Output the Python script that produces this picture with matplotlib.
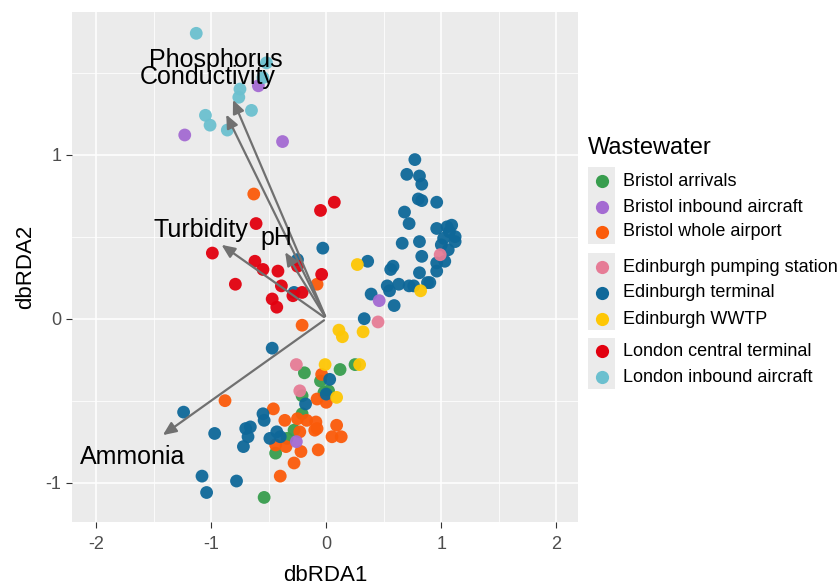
import matplotlib
matplotlib.use("Agg")
import matplotlib.pyplot as plt
from matplotlib.patches import Rectangle
from matplotlib.lines import Line2D

plt.rcParams['font.family'] = ['Liberation Sans', 'DejaVu Sans']

# sample scores per group (dbRDA1, dbRDA2)
groups = ['Bristol arrivals', 'Bristol inbound aircraft', 'Bristol whole airport',
          'Edinburgh pumping station', 'Edinburgh terminal', 'Edinburgh WWTP',
          'London central terminal', 'London inbound aircraft']
colors = ['#389D4E', '#A46BD2', '#FB5B0A', '#E67C96', '#0F6899', '#FEC705', '#E2000F', '#6CC0CF']

bristol_arrivals_x = [-0.19, 0.12, 0.25, -0.05, -0.02, -0.21, -0.21, -0.28, -0.44, -0.54, 0.02, -0.34]
bristol_arrivals_y = [-0.33, -0.31, -0.28, -0.38, -0.45, -0.47, -0.58, -0.68, -0.82, -1.09, -0.44, -0.73]

bristol_inbound_x = [-0.59, -1.23, -0.38, 0.46, -0.26]
bristol_inbound_y = [1.42, 1.12, 1.08, 0.11, -0.75]

bristol_whole_x = [-0.63, -0.08, -0.21, -0.88, -0.46, -0.36, -0.25, -0.17, -0.09, -0.08, -0.10, 0.09,
                   0.05, 0.13, -0.23, -0.35, -0.22, -0.07, -0.28, -0.40, -0.08, 0.00, -0.04, -0.44]
bristol_whole_y = [0.76, 0.21, -0.04, -0.50, -0.55, -0.62, -0.61, -0.62, -0.63, -0.67, -0.68, -0.65,
                   -0.72, -0.72, -0.69, -0.78, -0.81, -0.80, -0.88, -0.96, -0.49, -0.51, -0.34, -0.77]

edi_pumping_x = [-0.26, -0.23, 0.45, 0.99]
edi_pumping_y = [-0.28, -0.44, -0.02, 0.39]

edi_terminal_x = [0.77, 0.70, 0.81, 0.83, 0.80, 0.83, 0.96, 0.68, 0.72, 0.96, 1.05, 1.09, 1.02, 1.12,
                  0.66, 0.81, 0.83, 1.06, 1.12, 0.96, 1.03, 0.96, 0.90, 0.36, 0.58, 0.56, 0.81, 0.88,
                  0.53, 0.55, 0.63, 0.72, 0.76, 0.39, 0.59, 0.33, 1.07, 1.00,
                  -0.03, -0.25, -0.28, -0.47,
                  0.03, 0.00, -0.18, -1.24, -0.55, -0.54, -0.97, -0.70, -0.66, -0.68, -0.72, -0.43,
                  -0.49, -0.40, -1.08, -1.04, -0.78]
edi_terminal_y = [0.97, 0.88, 0.87, 0.82, 0.73, 0.72, 0.71, 0.65, 0.58, 0.55, 0.56, 0.57, 0.49, 0.50,
                  0.46, 0.47, 0.38, 0.42, 0.47, 0.34, 0.35, 0.29, 0.22, 0.35, 0.32, 0.30, 0.28, 0.22,
                  0.20, 0.17, 0.21, 0.20, 0.20, 0.15, 0.08, 0.00, 0.53, 0.45,
                  0.43, 0.36, 0.16, -0.18,
                  -0.37, -0.46, -0.52, -0.57, -0.58, -0.62, -0.70, -0.67, -0.66, -0.72, -0.78, -0.69,
                  -0.73, -0.72, -0.96, -1.06, -0.99]

edi_wwtp_x = [0.11, 0.14, 0.32, -0.01, 0.29, 0.27, 0.82, 0.09]
edi_wwtp_y = [-0.07, -0.11, -0.08, -0.28, -0.28, 0.33, 0.17, -0.48]

lon_central_x = [0.07, -0.05, -0.61, -0.99, -0.62, -0.55, -0.42, -0.25, -0.04, -0.79, -0.39, -0.47,
                 -0.29, -0.21, -0.43]
lon_central_y = [0.71, 0.66, 0.58, 0.40, 0.35, 0.30, 0.29, 0.32, 0.27, 0.21, 0.20, 0.12,
                 0.14, 0.16, 0.07]

lon_inbound_x = [-1.13, -0.52, -0.55, -0.75, -0.76, -0.65, -1.05, -1.01, -0.86]
lon_inbound_y = [1.74, 1.56, 1.47, 1.40, 1.35, 1.27, 1.24, 1.18, 1.15]

xs = [bristol_arrivals_x, bristol_inbound_x, bristol_whole_x, edi_pumping_x,
      edi_terminal_x, edi_wwtp_x, lon_central_x, lon_inbound_x]
ys = [bristol_arrivals_y, bristol_inbound_y, bristol_whole_y, edi_pumping_y,
      edi_terminal_y, edi_wwtp_y, lon_central_y, lon_inbound_y]

# environmental vectors
variables = ['Phosphorus', 'Conductivity', 'Turbidity', 'pH', 'Ammonia']
vec_x = [-0.82, -0.88, -0.93, -0.37, -1.44]
vec_y = [1.35, 1.26, 0.46, 0.42, -0.72]

fig = plt.figure(figsize=(8.39, 5.88), dpi=100)
ax = fig.add_axes([0.0858, 0.1122, 0.6034, 0.8674])
ax.set_facecolor('#EBEBEB')

draw_order = [0, 2, 4, 1, 5, 3, 6, 7]
for i in draw_order:
    ax.scatter(xs[i], ys[i], s=85, color=colors[i], edgecolors='none', alpha=0.95, zorder=3)

for name, vx, vy in zip(variables, vec_x, vec_y):
    ax.annotate('', xy=(vx, vy), xytext=(0, 0),
                arrowprops=dict(arrowstyle='-|>,head_length=0.8,head_width=0.35',
                                color='#707070', lw=1.6), zorder=4)
    ax.text(vx * 1.17, vy * 1.17, name, fontsize=18, ha='center', va='center',
            color='black', zorder=5)

ax.set_xlim(-2.21, 2.19)
ax.set_ylim(-1.24, 1.87)
ax.set_xticks([-2, -1, 0, 1, 2])
ax.set_yticks([-1, 0, 1])
ax.set_xticks([-1.5, -0.5, 0.5, 1.5], minor=True)
ax.set_yticks([-0.5, 0.5, 1.5], minor=True)
ax.grid(which='major', color='white', lw=1.1)
ax.grid(which='minor', color='white', lw=0.55)
ax.set_axisbelow(True)
for s in ax.spines.values():
    s.set_visible(False)
ax.tick_params(which='major', length=4, color='#333333', labelsize=13, labelcolor='#4D4D4D')
ax.tick_params(axis='x', which='major', pad=6)
ax.tick_params(which='minor', length=0)
ax.set_xticklabels(['-2', '-1', '0', '1', '2'])
ax.set_yticklabels(['-1', '0', '1'])
ax.set_xlabel('dbRDA1', fontsize=16, labelpad=9)
ax.set_ylabel('dbRDA2', fontsize=16, labelpad=7)

# legend drawn by hand to get the grouped key boxes
W, H = 839, 588
def fx(px):
    return px / W
def fy(py):
    return 1 - py / H

fig.text(fx(588), fy(148), 'Wastewater', fontsize=17, ha='left', va='center')
for top, bot in [(167, 244), (253, 330), (338, 389)]:
    fig.patches.append(Rectangle((fx(588), fy(bot)), fx(615) - fx(588), fy(top) - fy(bot),
                                 transform=fig.transFigure, facecolor='#EBEBEB',
                                 edgecolor='none'))
rows = [181, 207, 232, 267, 293, 319, 351, 377]
for name, c, ry in zip(groups, colors, rows):
    fig.add_artist(Line2D([fx(601.5)], [fy(ry)], marker='o', markersize=9.5, color=c,
                          markeredgewidth=0, linestyle='none', transform=fig.transFigure))
    fig.text(fx(623), fy(ry), name, fontsize=13, ha='left', va='center')

fig.savefig('out.png', dpi=100)
